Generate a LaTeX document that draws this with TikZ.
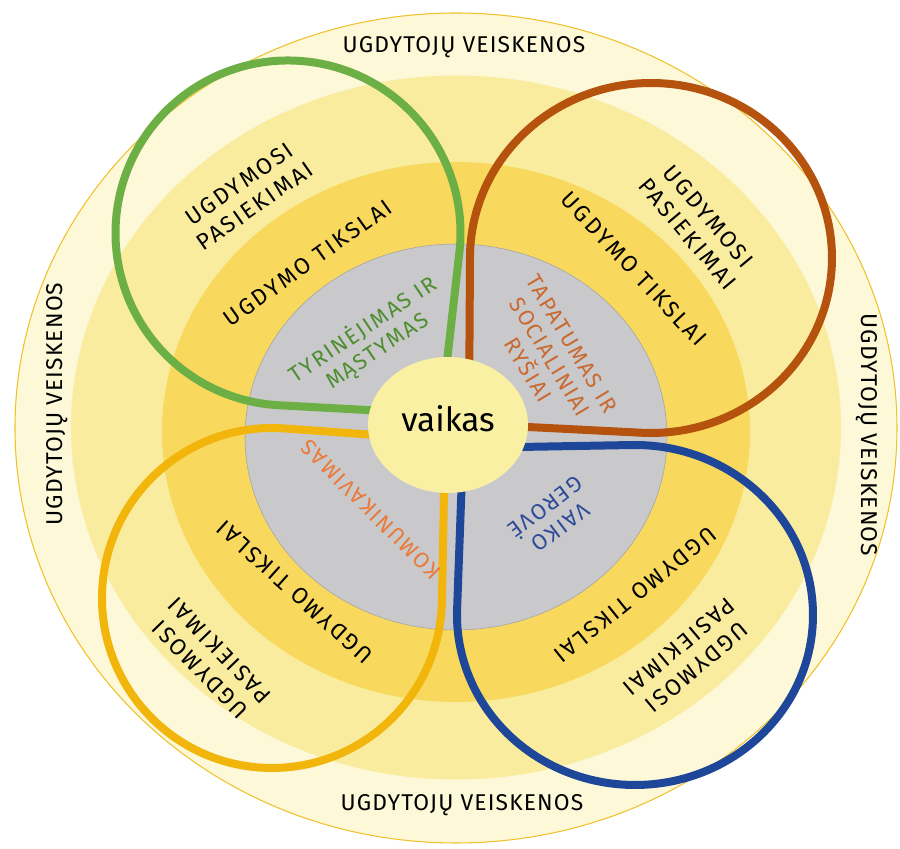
\documentclass[tikz,border=0pt]{standalone}
\usepackage{fontspec}
\setmainfont{Fira Sans}
\usepackage{xcolor}
\usetikzlibrary{shapes}

\definecolor{cream}{HTML}{FDF8D8}
\definecolor{rim}{HTML}{EFC22A}
\definecolor{palegold}{HTML}{FAEC9E}
\definecolor{gold}{HTML}{F8D95E}
\definecolor{stone}{HTML}{C9C9CC}
\definecolor{hubfill}{HTML}{FAF0A4}
\definecolor{leafgreen}{HTML}{6BAF45}
\definecolor{rust}{HTML}{B4520E}
\definecolor{navy}{HTML}{1F4799}
\definecolor{amber}{HTML}{F2B50C}
\definecolor{greentext}{HTML}{4E8E30}
\definecolor{rusttext}{HTML}{C86A30}
\definecolor{orangetext}{HTML}{EA7A3A}
\definecolor{navytext}{HTML}{2E4A98}

\tikzset{
  loopline/.style={line width=0.16cm, line join=round},
  caption/.style={font=\fontsize{13}{15.5}\selectfont\addfontfeatures{LetterSpace=11}, align=center, inner sep=0pt},
  outertext/.style={font=\fontsize{13}{15}\selectfont\addfontfeatures{LetterSpace=5}, inner sep=0pt},
  areatext/.style={font=\fontsize{12.5}{14.5}\selectfont\addfontfeatures{LetterSpace=8}, align=center, inner sep=0pt},
  hub/.style={ellipse, fill=hubfill, minimum width=3.2cm, minimum height=2.72cm, inner sep=0pt}
}

\begin{document}
\begin{tikzpicture}
\useasboundingbox (-9.12,-8.40) rectangle (8.88,8.58);

\fill[cream, draw=rim, line width=0.6pt] (0,0.02) ellipse [x radius=8.82, y radius=8.30];
\fill[palegold] (0,0.03) ellipse [x radius=7.70, y radius=7.04];
\fill[gold] (0,-0.06) ellipse [x radius=5.88, y radius=5.40];
\fill[stone, draw=stone!80!black, line width=0.3pt] (0,-0.16) ellipse [x radius=4.22, y radius=3.86];

\coordinate (greenc) at (-3.36,3.92);
\coordinate (greentip) at (-0.30,0.30);
\coordinate (rustc) at (3.90,3.42);
\coordinate (rusttip) at (0.26,0.10);
\coordinate (navyc) at (3.58,-3.72);
\coordinate (navytip) at (0.14,-0.38);
\coordinate (amberc) at (-3.68,-3.38);
\coordinate (ambertip) at (-0.22,-0.22);

\draw[loopline, leafgreen] (greentip) -- ([shift={(greenc)}] -6.5:3.45)
  arc[start angle=-6.5, end angle=266.9, radius=3.45] -- (greentip);
\draw[loopline, rust] (rusttip) -- ([shift={(rustc)}] 179.6:3.62cm and 3.5cm)
  arc[start angle=179.6, end angle=-93, x radius=3.62, y radius=3.5] -- (rusttip);
\draw[loopline, navy] (navytip) -- ([shift={(navyc)}] 91:3.56cm and 3.4cm)
  arc[start angle=91, end angle=-182, x radius=3.56, y radius=3.4] -- (navytip);
\draw[loopline, amber] (ambertip) -- ([shift={(amberc)}] 85.9:3.4)
  arc[start angle=85.9, end angle=358.9, radius=3.4] -- (ambertip);

\node[hub] (vaikas) at (-0.16,0.08) {};
\node[font=\fontsize{19}{21}\selectfont, inner sep=0pt] (vaikastext) at (-0.16,0.2) {vaikas};

\node[outertext] (topveiksenos) at (0.16,7.63) {UGDYTOJŲ VEISKENOS};
\node[outertext] (bottomveiksenos) at (0.12,-7.52) {UGDYTOJŲ VEISKENOS};
\node[outertext, rotate=90] (leftveiksenos) at (-7.97,0.5) {UGDYTOJŲ VEISKENOS};
\node[outertext, rotate=-90] (rightveiksenos) at (8.22,-0.12) {UGDYTOJŲ VEISKENOS};

\node[caption, rotate=35] (pasiekimaitl) at (-4.18,4.68) {UGDYMOSI\\PASIEKIMAI};
\node[caption, rotate=-50] (pasiekimaitr) at (4.84,4.08) {UGDYMOSI\\PASIEKIMAI};
\node[caption, rotate=134] (pasiekimaibl) at (-4.92,-4.62) {UGDYMOSI\\PASIEKIMAI};
\node[caption, rotate=-140] (pasiekimaibr) at (4.64,-4.56) {UGDYMOSI\\PASIEKIMAI};

\node[caption, rotate=35.5] (tikslaitl) at (-2.96,3.32) {UGDYMO TIKSLAI};
\node[caption, rotate=-47] (tikslaitr) at (3.56,3.20) {UGDYMO TIKSLAI};
\node[caption, rotate=138] (tikslaibl) at (-3.22,-3.26) {UGDYMO TIKSLAI};
\node[caption, rotate=-141] (tikslaibr) at (3.58,-3.32) {UGDYMO TIKSLAI};

\node[areatext, greentext, rotate=34] (tyrinejimas) at (-1.72,1.78) {TYRINĖJIMAS IR\\MĄSTYMAS};
\node[areatext, rusttext, rotate=-59] (tapatumas) at (1.88,1.44) {TAPATUMAS IR\\SOCIALINIAI\\RYŠIAI};
\node[areatext, orangetext, rotate=135] (komunikavimas) at (-1.70,-1.62) {KOMUNIKAVIMAS};
\node[areatext, navytext, rotate=-143] (gerove) at (1.94,-1.76) {VAIKO\\GEROVĖ};
\end{tikzpicture}
\end{document}
